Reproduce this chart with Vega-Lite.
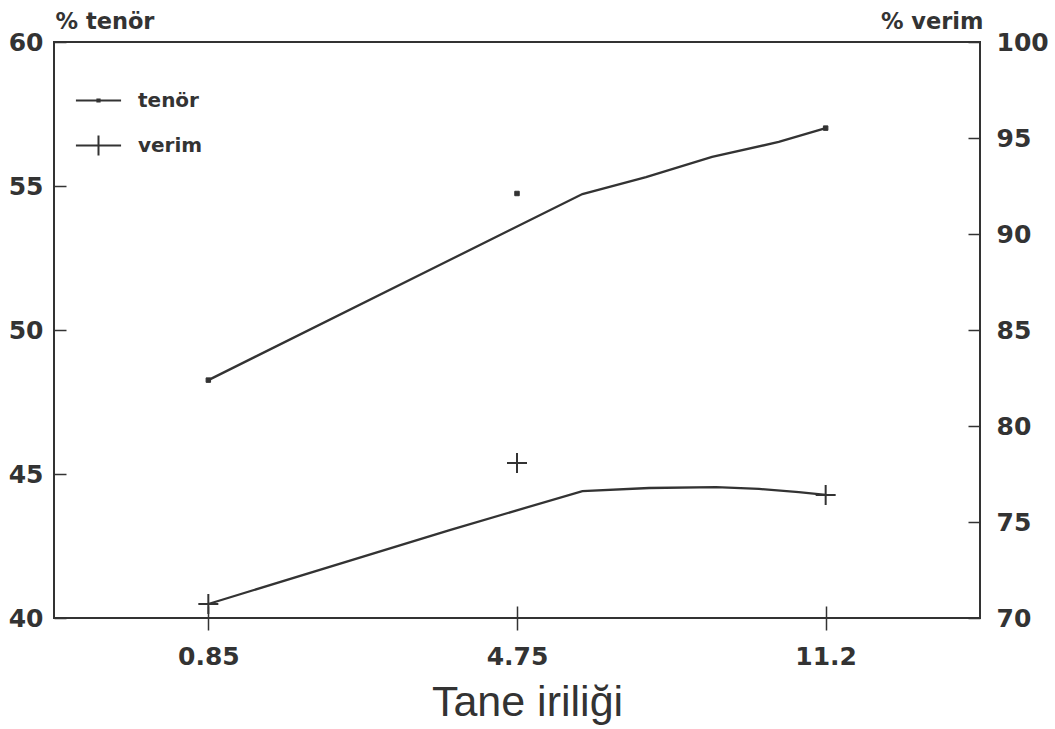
{
  "$schema": "https://vega.github.io/schema/vega-lite/v6.json",
  "width": 926,
  "height": 576,
  "autosize": {"type": "none"},
  "padding": {"left": 54, "top": 42, "right": 75, "bottom": 111},
  "background": "white",
  "config": {
    "view": {"stroke": "#333", "strokeWidth": 2},
    "axis": {"grid": false}
  },
  "datasets": {
    "tenor_pts": [
      {"series": "tenör", "x": 1, "size": "0.85", "value": 48.26},
      {"series": "tenör", "x": 2, "size": "4.75", "value": 54.74},
      {"series": "tenör", "x": 3, "size": "11.2", "value": 57.01}
    ],
    "tenor_curve": [
      {"x": 1, "value": 48.26},
      {"x": 1.782, "value": 52.43},
      {"x": 2.212, "value": 54.72},
      {"x": 2.418, "value": 55.31},
      {"x": 2.632, "value": 56.01},
      {"x": 2.848, "value": 56.53},
      {"x": 3, "value": 57.01}
    ],
    "verim_pts": [
      {"series": "verim", "x": 1, "size": "0.85", "value": 70.73},
      {"series": "verim", "x": 2, "size": "4.75", "value": 78.07},
      {"series": "verim", "x": 3, "size": "11.2", "value": 76.41}
    ],
    "verim_curve": [
      {"x": 1, "value": 70.73},
      {"x": 1.782, "value": 74.58},
      {"x": 2.212, "value": 76.61},
      {"x": 2.428, "value": 76.77},
      {"x": 2.645, "value": 76.82},
      {"x": 2.784, "value": 76.72},
      {"x": 2.913, "value": 76.56},
      {"x": 3, "value": 76.41}
    ]
  },
  "encoding": {
    "x": {
      "field": "x",
      "type": "quantitative",
      "scale": {"domain": [0.5, 3.5], "nice": false, "zero": false},
      "axis": {
        "values": [1, 2, 3],
        "labelExpr": "datum.value == 1 ? '0.85' : datum.value == 2 ? '4.75' : '11.2'",
        "title": "Tane iriliği",
        "grid": false,
        "domain": false,
        "offset": -12,
        "tickSize": 24,
        "tickColor": "#333",
        "tickWidth": 1.5,
        "labelFont": "DejaVu Sans",
        "labelFontSize": 25,
        "labelFontWeight": "bold",
        "labelColor": "#333",
        "labelPadding": 14,
        "labelBaseline": "top",
        "titleFont": "Liberation Sans",
        "titleFontSize": 43,
        "titleFontWeight": "normal",
        "titleColor": "#333",
        "titleX": 473,
        "titleY": 109,
        "titleAlign": "center",
        "titleBaseline": "alphabetic"
      }
    }
  },
  "layer": [
    {
      "encoding": {
        "y": {
          "field": "value",
          "type": "quantitative",
          "scale": {"domain": [40, 60], "nice": false, "zero": false},
          "axis": {
            "orient": "left",
            "values": [40, 45, 50, 55, 60],
            "tickSize": -12,
            "domain": false,
            "grid": false,
            "tickColor": "#333",
            "tickWidth": 1.5,
            "labelFont": "DejaVu Sans",
            "labelFontSize": 25,
            "labelFontWeight": "bold",
            "labelColor": "#333",
            "labelPadding": 23,
            "title": "% tenör",
            "titleAngle": 0,
            "titleX": 1,
            "titleY": -14,
            "titleAlign": "left",
            "titleBaseline": "alphabetic",
            "titleFont": "DejaVu Sans",
            "titleFontSize": 22.5,
            "titleFontWeight": "bold",
            "titleColor": "#333"
          }
        }
      },
      "layer": [
        {
          "data": {"name": "tenor_curve"},
          "mark": {"type": "line", "color": "#333", "strokeWidth": 2.3}
        },
        {
          "data": {"name": "tenor_pts"},
          "mark": {"type": "point", "shape": "square", "filled": true, "fill": "#333", "stroke": "#333", "strokeWidth": 1, "size": 20, "opacity": 1}
        }
      ]
    },
    {
      "encoding": {
        "y": {
          "field": "value",
          "type": "quantitative",
          "scale": {"domain": [70, 100], "nice": false, "zero": false},
          "axis": {
            "orient": "right",
            "values": [70, 75, 80, 85, 90, 95, 100],
            "tickSize": -12,
            "domain": false,
            "grid": false,
            "tickColor": "#333",
            "tickWidth": 1.5,
            "labelFont": "DejaVu Sans",
            "labelFontSize": 25,
            "labelFontWeight": "bold",
            "labelColor": "#333",
            "labelPadding": 28,
            "title": "% verim",
            "titleAngle": 0,
            "titleX": 3,
            "titleY": -14,
            "titleAlign": "right",
            "titleBaseline": "alphabetic",
            "titleFont": "DejaVu Sans",
            "titleFontSize": 22.5,
            "titleFontWeight": "bold",
            "titleColor": "#333"
          }
        }
      },
      "layer": [
        {
          "data": {"name": "verim_curve"},
          "mark": {"type": "line", "color": "#333", "strokeWidth": 2.3}
        },
        {
          "data": {"name": "verim_pts"},
          "mark": {"type": "point", "shape": "M-1,0H1M0,-1V1", "filled": false, "stroke": "#333", "strokeWidth": 2, "size": 400, "opacity": 1}
        },
        {
          "data": {"name": "verim_pts"},
          "mark": {"type": "point", "filled": false, "opacity": 0},
          "encoding": {
            "shape": {
              "field": "series",
              "type": "nominal",
              "scale": {
                "domain": ["tenör", "verim"],
                "range": ["M-1.22,0H1.22M-0.06,-0.06H0.06V0.06H-0.06Z", "M-1.22,0H1.22M0,-0.54V0.54"]
              },
              "legend": {
                "orient": "none",
                "legendX": 25,
                "legendY": 39,
                "title": null,
                "padding": 0,
                "rowPadding": 15,
                "symbolSize": 1369,
                "symbolStrokeWidth": 2,
                "symbolStrokeColor": "#333",
                "symbolFillColor": "#333",
                "symbolOpacity": 1,
                "labelFont": "DejaVu Sans",
                "labelFontSize": 20,
                "labelFontWeight": "bold",
                "labelColor": "#333",
                "labelOffset": 20
              }
            }
          }
        }
      ]
    }
  ],
  "resolve": {"scale": {"y": "independent"}}
}
